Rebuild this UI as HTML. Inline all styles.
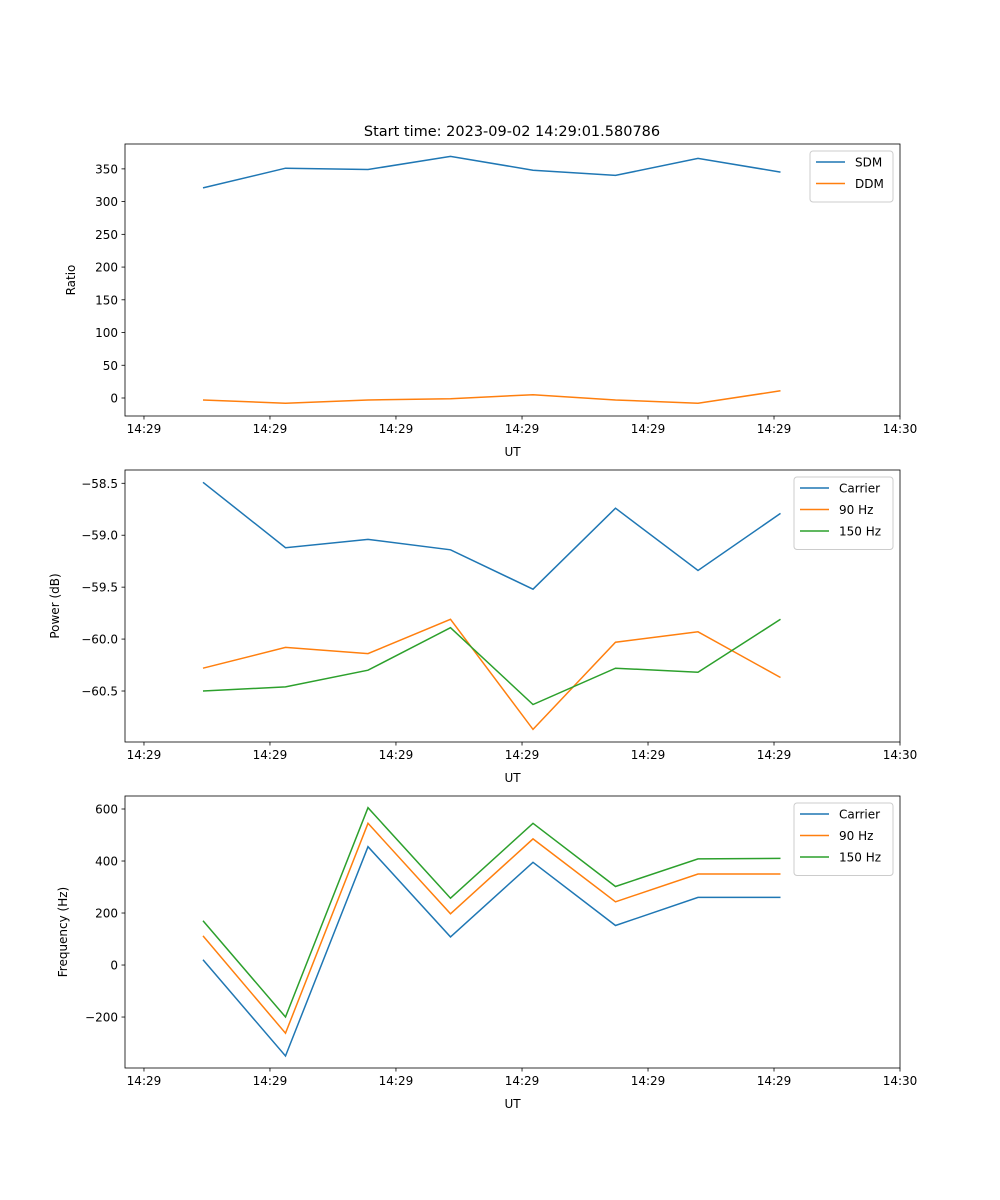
<!DOCTYPE html>
<html><head><meta charset="utf-8">
<style>
body{margin:0;background:#fff;}
svg{display:block;font-family:"DejaVu Sans","Liberation Sans",sans-serif;}
</style></head>
<body>
<svg id="fig" width="1000" height="1200" viewBox="0 0 1000 1200">
<rect width="1000" height="1200" fill="#fff"/>
<text x="512" y="136" text-anchor="middle" font-size="14.5">Start time: 2023-09-02 14:29:01.580786</text>
</svg>
<script>
// shared x data (sample index) and tick positions in same units
const sampleX = [0, 1, 2, 3, 4, 5, 6, 7];
const xTickVals = [-0.715, 0.812, 2.339, 3.867, 5.394, 6.921, 8.448];
const xTickLabels = ["14:29","14:29","14:29","14:29","14:29","14:29","14:30"];
const xDomain = [-0.945, 8.448];

// panel 1
const sdm = [321, 351, 349, 369, 348, 340, 366, 345];
const ddm = [-3, -8, -3, -1, 5, -3, -8, 11];
const p1Ticks = [0, 50, 100, 150, 200, 250, 300, 350];
// panel 2
const pwrCarrier = [-58.49, -59.12, -59.04, -59.14, -59.52, -58.74, -59.34, -58.79];
const pwr90 = [-60.28, -60.08, -60.14, -59.81, -60.87, -60.03, -59.93, -60.37];
const pwr150 = [-60.50, -60.46, -60.30, -59.89, -60.63, -60.28, -60.32, -59.81];
const p2Ticks = [-60.5, -60.0, -59.5, -59.0, -58.5];
// panel 3
const frqCarrier = [20, -350, 455, 108, 395, 152, 260, 260];
const frq90 = [112, -262, 545, 197, 485, 243, 350, 350];
const frq150 = [170, -200, 605, 257, 545, 302, 408, 410];
const p3Ticks = [-200, 0, 200, 400, 600];

const NS = "http://www.w3.org/2000/svg";
const svg = document.getElementById('fig');
const C = ['#1f77b4', '#ff7f0e', '#2ca02c'];
function mk(tag, attrs, parent) {
  const e = document.createElementNS(NS, tag);
  for (const k in attrs) e.setAttribute(k, attrs[k]);
  (parent || svg).appendChild(e);
  return e;
}
function fmt(v, dec) {
  const s = Math.abs(v).toFixed(dec);
  return (v < 0 ? '\u2212' : '') + s;
}
const L = 125, R = 900;
function panel(id, top, bot, yDom, yTicks, dec, ylabel, series, names, legendW) {
  const g = mk('g', {});
  
  
  const sx = v => L + (v - xDomain[0]) / (xDomain[1] - xDomain[0]) * (R - L);
  const sy = v => bot - (v - yDom[0]) / (yDom[1] - yDom[0]) * (bot - top);
  series.forEach((arr, i) => {
    const pts = arr.map((v, j) => sx(sampleX[j]).toFixed(1) + ',' + sy(v).toFixed(1)).join(' ');
    const pl = mk('polyline', {points: pts, fill: 'none', stroke: C[i], 'stroke-width': 1.5}, g);
    
    
  });
  const fr = mk('rect', {x: L, y: top, width: R - L, height: bot - top, fill: 'none', stroke: '#000', 'stroke-width': 0.8}, g);
  
  
  xTickVals.forEach((v, i) => {
    const x = sx(v);
    mk('line', {x1: x, x2: x, y1: bot, y2: bot + 3.5, stroke: '#000', 'stroke-width': 0.8}, g);
    const t = mk('text', {x: x, y: bot + 17, 'text-anchor': 'middle', 'font-size': 12}, g);
    t.textContent = xTickLabels[i];
    
    
  });
  const xl = mk('text', {x: (L + R) / 2, y: bot + 40, 'text-anchor': 'middle', 'font-size': 12}, g);
  xl.textContent = 'UT';
  
  
  let maxW = 0;
  yTicks.forEach(v => {
    const y = sy(v);
    mk('line', {x1: L - 3.5, x2: L, y1: y, y2: y, stroke: '#000', 'stroke-width': 0.8}, g);
    const s = fmt(v, dec);
    maxW = Math.max(maxW, s.length);
    const t = mk('text', {x: L - 7, y: y + 4.5, 'text-anchor': 'end', 'font-size': 12}, g);
    t.textContent = s;
    
    
  });
  const yx = L - 26 - maxW * 8;
  const yl = mk('text', {x: yx, y: (top + bot) / 2, 'text-anchor': 'middle', 'font-size': 12, transform: 'rotate(-90 ' + yx + ' ' + (top + bot) / 2 + ')'}, g);
  yl.textContent = ylabel;
  
  
  const lg = mk('g', {}, g);
  
  
  const lx = R - 7 - legendW, ly = top + 7;
  mk('rect', {x: lx, y: ly, width: legendW, height: 8 + names.length * 21.5, rx: 3, fill: '#fff', 'fill-opacity': 0.8, stroke: '#ccc', 'stroke-width': 1}, lg);
  names.forEach((n, i) => {
    const y = ly + 11 + i * 21.5;
    mk('line', {x1: lx + 6, x2: lx + 35, y1: y, y2: y, stroke: C[i], 'stroke-width': 1.5}, lg);
    const t = mk('text', {x: lx + 45, y: y + 4.5, 'font-size': 12}, lg);
    t.textContent = n;
    
    
  });
}
panel('ratio', 144, 416, [-27.5, 388], p1Ticks, 0, 'Ratio', [sdm, ddm], ['SDM', 'DDM'], 83);
panel('power', 470, 742, [-60.991, -58.372], p2Ticks, 1, 'Power (dB)', [pwrCarrier, pwr90, pwr150], ['Carrier', '90 Hz', '150 Hz'], 99);
panel('frequency', 796, 1068, [-396, 650], p3Ticks, 0, 'Frequency (Hz)', [frqCarrier, frq90, frq150], ['Carrier', '90 Hz', '150 Hz'], 99);
</script>
</body></html>
